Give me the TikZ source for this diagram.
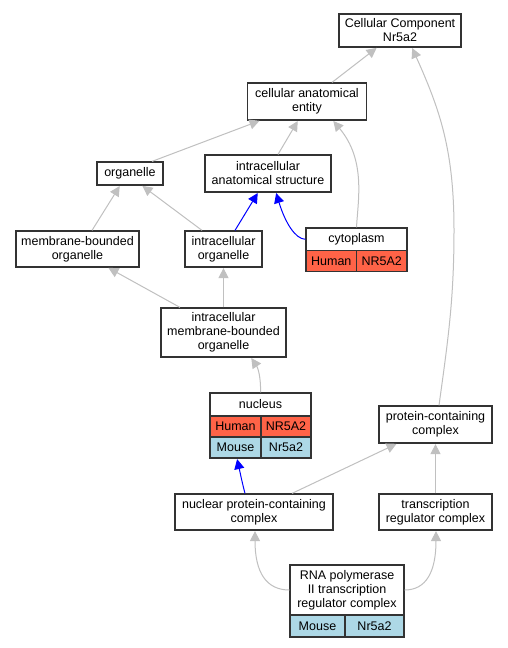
\documentclass[tikz,border=0pt]{standalone}
\usepackage{fontspec}
\setmainfont{Liberation Sans}
\usetikzlibrary{arrows.meta,calc}
\definecolor{tomatoc}{HTML}{FF6347}
\definecolor{lblue}{HTML}{ADD8E6}
\definecolor{edgegray}{HTML}{C0C0C0}
\definecolor{bordc}{HTML}{333333}
\begin{document}
\begin{tikzpicture}[x=1pt,y=-1pt,
  box/.style={draw=bordc, line width=1.2pt, fill=white, inner sep=0pt, align=center,
    font=\fontsize{12.5}{14}\selectfont},
  hum/.style={box, fill=tomatoc},
  mou/.style={box, fill=lblue},
  isa/.style={draw=edgegray, line width=1pt, -{Triangle[length=10pt,width=10pt]}, shorten >=0.5pt},
  pof/.style={draw=blue, line width=1pt, -{Triangle[length=10pt,width=10pt]}, shorten >=0.5pt}
]
\useasboundingbox[fill=white] (0,0) rectangle (508,648);

% nodes
\node[box, minimum width=122pt, minimum height=33pt] (cc) at (400,30.5) {Cellular Component\\Nr5a2};
\node[box, minimum width=119pt, minimum height=37pt] (cae) at (307,101.5) {cellular anatomical\\entity};
\node[box, minimum width=66pt, minimum height=23pt] (org) at (130,173.5) {organelle};
\node[box, minimum width=126pt, minimum height=37pt] (ias) at (268,173.5) {intracellular\\anatomical structure};
\node[box, minimum width=123pt, minimum height=36pt] (mbo) at (77.5,249) {membrane-bounded\\organelle};
\node[box, minimum width=77pt, minimum height=36pt] (io) at (223.5,249) {intracellular\\organelle};
% cytoplasm table
\node[box, minimum width=101pt, minimum height=22.7pt] (cytot) at (356.5,239.3) {cytoplasm};
\node[hum, minimum width=50.7pt, minimum height=21pt] (cytoh) at (331.3,261.2) {Human};
\node[hum, minimum width=50.3pt, minimum height=21pt] (cytog) at (381.8,261.2) {NR5A2};
\node[box, minimum width=125pt, minimum height=49pt] (imbo) at (223.5,332.5) {intracellular\\membrane-bounded\\organelle};
% nucleus table
\node[box, minimum width=101pt, minimum height=23pt] (nuct) at (260.5,404.5) {nucleus};
\node[hum, minimum width=51pt, minimum height=21pt] (nuch) at (235.5,426.5) {Human};
\node[hum, minimum width=50pt, minimum height=21pt] (nuchg) at (286,426.5) {NR5A2};
\node[mou, minimum width=51pt, minimum height=21pt] (nucm) at (235.5,447.5) {Mouse};
\node[mou, minimum width=50pt, minimum height=21pt] (nucmg) at (286,447.5) {Nr5a2};
\node[box, minimum width=113pt, minimum height=37pt] (pcc) at (435.5,424.5) {protein-containing\\complex};
\node[box, minimum width=158pt, minimum height=36pt] (npcc) at (254,512) {nuclear protein-containing\\complex};
\node[box, minimum width=113pt, minimum height=36pt] (trc) at (435.5,512) {transcription\\regulator complex};
% RNA pol II table
\node[box, minimum width=114pt, minimum height=50pt] (rnat) at (347,590) {RNA polymerase\\II transcription\\regulator complex};
\node[mou, minimum width=55pt, minimum height=22pt] (rnam) at (317.5,626) {Mouse};
\node[mou, minimum width=59pt, minimum height=22pt] (rnag) at (374.5,626) {Nr5a2};

% edges
\draw[isa] ($(cae.north)+(25,0)$) -- ($(cc.south)+(-23,0)$);
\draw[isa] ($(pcc.north)+(3.5,0)$) .. controls (448,340) and (454,300) .. (454,230)
   .. controls (454,150) and (440,110) .. ($(cc.south)+(12,0)$);
\draw[isa] ($(org.north)+(22,0)$) -- ($(cae.south)+(-47,0)$);
\draw[isa] ($(ias.north)+(10,0)$) -- ($(cae.south)+(-9,0)$);
\draw[isa] (cytot.north) .. controls (358,200) and (366,160) .. ($(cae.south)+(26,0)$);
\draw[isa] ($(mbo.north)+(14.5,0)$) -- ($(org.south)+(-10,0)$);
\draw[isa] ($(io.north)+(-21.5,0)$) -- ($(org.south)+(12,0)$);
\draw[pof] ($(io.north)+(11.5,0)$) -- ($(ias.south)+(-10,0)$);
\draw[pof] (cytot.west) .. controls (295,239) and (285,222) .. ($(ias.south)+(8,0)$);
\draw[isa] ($(imbo.north)+(-43.5,0)$) -- ($(mbo.south)+(30.5,0)$);
\draw[isa] (imbo.north) -- (io.south);
\draw[isa] (nuct.north) .. controls (261,378) and (258,368) .. ($(imbo.south)+(27.5,0)$);
\draw[pof] ($(npcc.north)+(-9,0)$) .. controls (242,482) and (240,472) .. ($(nucm.south)+(1.5,0)$);
\draw[isa] ($(npcc.north)+(38,0)$) -- ($(pcc.south)+(-38.5,0)$);
\draw[isa] (trc.north) -- (pcc.south);
\draw[isa] (rnat.west) .. controls (266,590) and (255,572) .. ($(npcc.south)+(1,0)$);
\draw[isa] (rnat.east) .. controls (426,590) and (436,572) .. ($(trc.south)+(0.5,0)$);
\end{tikzpicture}
\end{document}
